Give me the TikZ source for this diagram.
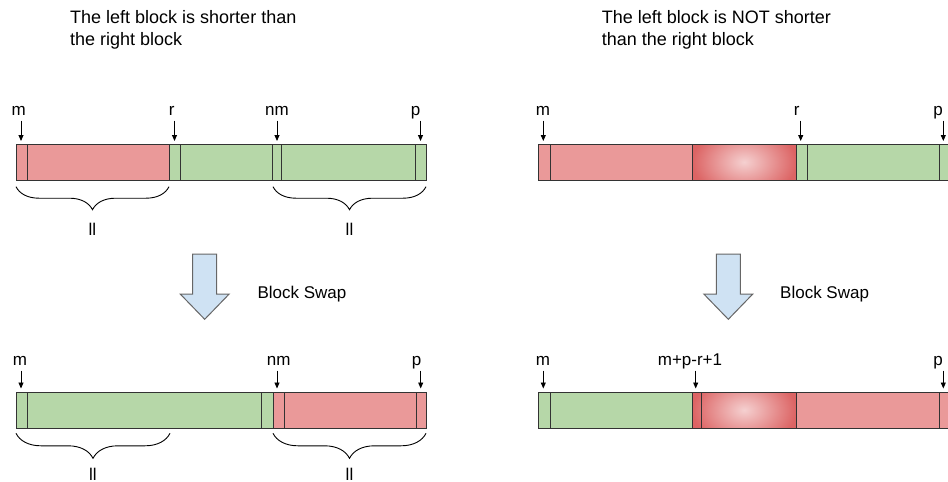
\documentclass[tikz,border=0pt]{standalone}
\usepackage{fontspec}
\setmainfont{Liberation Sans}
\usetikzlibrary{arrows.meta,decorations.pathreplacing}

\definecolor{segred}{HTML}{EA9999}
\definecolor{segdark}{HTML}{DC6464}
\definecolor{glowin}{HTML}{F5D0D0}
\definecolor{seggreen}{HTML}{B6D7A8}
\definecolor{arrowblue}{HTML}{CFE2F3}

\begin{document}
\begin{tikzpicture}[
    x=1pt, y=-1pt,
    font=\fontsize{17}{21.5}\selectfont,
    seg/.style={draw=black!80, line width=1pt},
    lbl/.style={inner sep=0pt, anchor=base, text depth=5.5pt},
    ptr/.style={-{Triangle[length=6pt,width=5pt]}, line width=0.9pt},
    brc/.style={decorate, decoration={brace, mirror, amplitude=#1}, line width=0.9pt},
    brc/.default=23pt,
    heading/.style={anchor=north west, inner sep=0pt, align=left, font=\fontsize{18}{21.5}\selectfont},
    bigarrow/.style={draw=black!60, fill=arrowblue, line width=1pt}
]
    \useasboundingbox (0,0) rectangle (948,482);
    \clip (0,0) rectangle (948,482);

    \node[heading] (hdl) at (70,10.5) {The left block is shorter than\\the right block};
    \node[heading] (hdr) at (601.7,10.5) {The left block is NOT shorter\\than the right block};

    % left side, before and after
    \foreach \a/\b/\c in {16/169/segred, 169/426/seggreen} \filldraw[seg, fill=\c] (\a,144) rectangle (\b,180);
    \foreach \x in {27.7, 180.3, 272.3, 281.7, 415} \draw[seg] (\x,144) -- (\x,180);
    \foreach \a/\b/\c in {16/273.3/seggreen, 273.3/426/segred} \filldraw[seg, fill=\c] (\a,392) rectangle (\b,428);
    \foreach \x in {27, 261.7, 284.3, 416} \draw[seg] (\x,392) -- (\x,428);

    % right side, before and after
    \foreach \y/\l/\r in {144/segred/seggreen, 392/seggreen/segred} {
        \filldraw[seg, fill=\l] (538.5,\y) rectangle (692.3,\y+36);
        \begin{scope}
            \clip (692.3,\y) rectangle (796,\y+36);
            \shade[inner color=glowin, outer color=segdark] (692.3,\y-18) rectangle (796,\y+54);
        \end{scope}
        \draw[seg] (692.3,\y) rectangle (796,\y+36);
        \filldraw[seg, fill=\r] (796,\y) rectangle (952,\y+36);
        \foreach \x in {550.7, 939} \draw[seg] (\x,\y) -- (\x,\y+36);
    }
    \draw[seg] (807.3,144) -- (807.3,180);
    \draw[seg] (701.7,392) -- (701.7,428);

    \node[lbl] (lm) at (18.8,115) {m};     \coordinate (lm-tip) at (21,141);
    \node[lbl] (lr) at (171.7,115) {r};    \coordinate (lr-tip) at (174.5,141);
    \node[lbl] (lnm) at (277,115) {nm};    \coordinate (lnm-tip) at (277,141);
    \node[lbl] (lp) at (415.7,115) {p};    \coordinate (lp-tip) at (420.5,141);
    \node[lbl] (blm) at (20,365) {m};      \coordinate (blm-tip) at (21,388.5);
    \node[lbl] (blnm) at (278.8,365) {nm}; \coordinate (blnm-tip) at (277,388.5);
    \node[lbl] (blp) at (416.7,365) {p};   \coordinate (blp-tip) at (420.7,388.5);
    \node[lbl] (rm) at (543,115) {m};      \coordinate (rm-tip) at (543.3,141);
    \node[lbl] (rr) at (796.7,115) {r};    \coordinate (rr-tip) at (800.7,141);
    \node[lbl] (rp) at (938,115) {p};      \coordinate (rp-tip) at (943.3,141);
    \node[lbl] (brm) at (543,365) {m};     \coordinate (brm-tip) at (543.3,388.5);
    \node[lbl] (brmid) at (690,365) {m+p-r+1}; \coordinate (brmid-tip) at (695.7,388.5);
    \node[lbl] (brp) at (938,365) {p};     \coordinate (brp-tip) at (943.3,388.5);
    \foreach \n in {lm,lr,lnm,lp,blm,blnm,blp,rm,rr,rp,brm,brmid,brp} \draw[ptr] (\n.south -| \n-tip) -- (\n-tip);

    \draw[brc] (16,186.7) -- (169,186.7);  \node[anchor=base] (ll1) at (92.5,235) {ll};
    \draw[brc] (273,186.7) -- (426,186.7); \node[anchor=base] (ll2) at (349.5,235) {ll};
    \draw[brc=25pt] (16,433.3) -- (170,433.3);  \node[anchor=base] (ll3) at (93,480) {ll};
    \draw[brc=25pt] (273,433.3) -- (426,433.3); \node[anchor=base] (ll4) at (349.5,480) {ll};

    \foreach \cx in {204.7, 728.3} \filldraw[bigarrow] (\cx-12,254) -- (\cx+12,254) -- (\cx+12,294) -- (\cx+24.5,294) -- (\cx,319.3) -- (\cx-24.5,294) -- (\cx-12,294) -- cycle;
    \node[anchor=base west, inner sep=0pt] (swapl) at (257.3,298) {Block Swap};
    \node[anchor=base west, inner sep=0pt] (swapr) at (780,298) {Block Swap};
\end{tikzpicture}
\end{document}
